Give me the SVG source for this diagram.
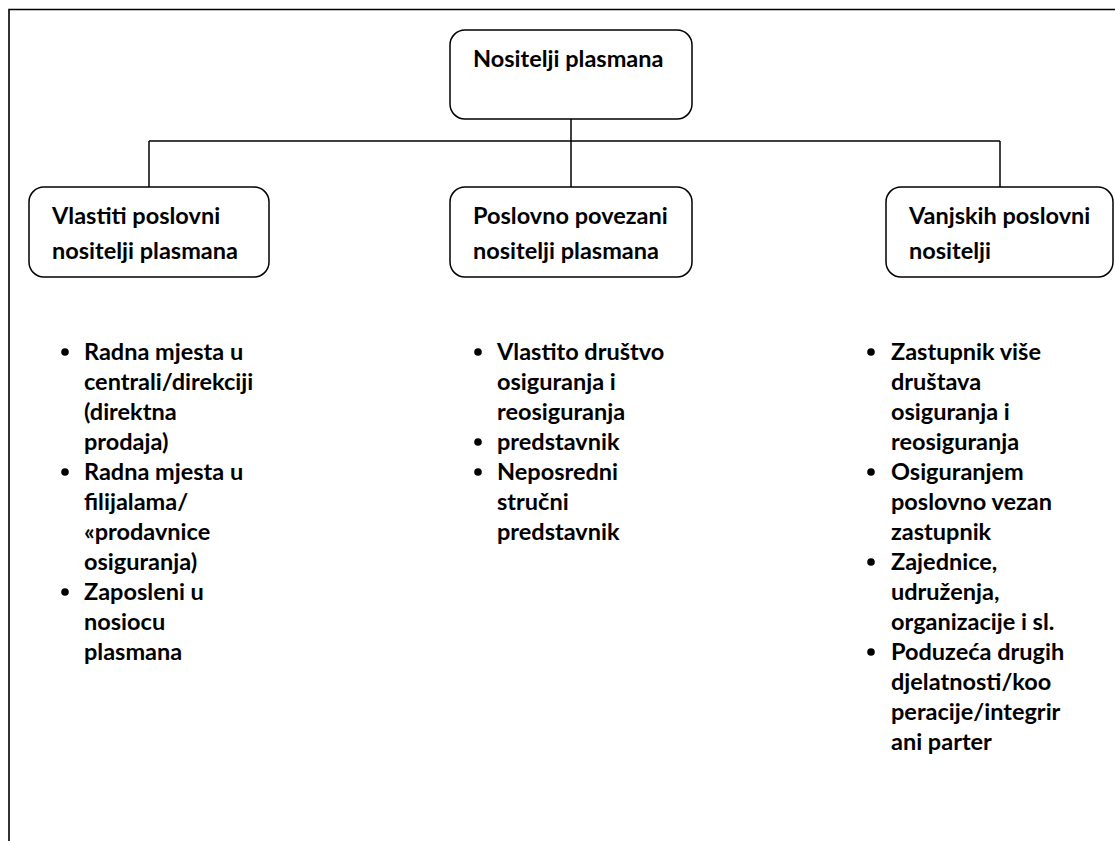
<svg xmlns="http://www.w3.org/2000/svg" width="1115" height="841" viewBox="0 0 1115 841">
<style>
.frame{fill:none;stroke:#000;stroke-width:1.6}
.box{fill:#fff;stroke:#000;stroke-width:1.5}
.conn{fill:none;stroke:#000;stroke-width:1.5}
text{font-family:Lato,"Liberation Sans",sans-serif;font-weight:bold;font-size:23.5px;fill:#000}
.dot{fill:#000}
</style>
<rect width="1115" height="841" fill="#fff"/>
<path class="frame" d="M9,841 V9.5 H1115"/>
<g id="connectors">
<path class="conn" d="M571,119 V187"/>
<path class="conn" d="M149,141 H1000"/>
<path class="conn" d="M149,141 V187"/>
<path class="conn" d="M1000,141 V187"/>
</g>
<g id="root">
<rect class="box" x="450" y="30" width="242" height="89" rx="15"/>
<text x="473" y="67">Nositelji plasmana</text>
</g>
<g id="left">
<rect class="box" x="29" y="187" width="240" height="90" rx="15"/>
<text x="52" y="224">Vlastiti poslovni</text>
<text x="52" y="259">nositelji plasmana</text>
</g>
<g id="middle">
<rect class="box" x="450" y="187" width="242" height="90" rx="15"/>
<text x="473" y="224">Poslovno povezani</text>
<text x="473" y="259">nositelji plasmana</text>
</g>
<g id="right">
<rect class="box" x="886" y="187" width="227" height="90" rx="15"/>
<text x="909" y="224">Vanjskih poslovni</text>
<text x="909" y="259">nositelji</text>
</g>
<g id="list-left">
<circle class="dot" cx="65" cy="352" r="3.8"/>
<circle class="dot" cx="65" cy="472" r="3.8"/>
<circle class="dot" cx="65" cy="592" r="3.8"/>
<text x="84" y="360">Radna mjesta u</text>
<text x="84" y="390">centrali/direkciji</text>
<text x="84" y="420">(direktna</text>
<text x="84" y="450">prodaja)</text>
<text x="84" y="480">Radna mjesta u</text>
<text x="84" y="510">filijalama/</text>
<text x="84" y="540">«prodavnice</text>
<text x="84" y="570">osiguranja)</text>
<text x="84" y="600">Zaposleni u</text>
<text x="84" y="630">nosiocu</text>
<text x="84" y="660">plasmana</text>
</g>
<g id="list-middle">
<circle class="dot" cx="478" cy="352" r="3.8"/>
<circle class="dot" cx="478" cy="442" r="3.8"/>
<circle class="dot" cx="478" cy="472" r="3.8"/>
<text x="497" y="360">Vlastito društvo</text>
<text x="497" y="390">osiguranja i</text>
<text x="497" y="420">reosiguranja</text>
<text x="497" y="450">predstavnik</text>
<text x="497" y="480">Neposredni</text>
<text x="497" y="510">stručni</text>
<text x="497" y="540">predstavnik</text>
</g>
<g id="list-right">
<circle class="dot" cx="871" cy="352" r="3.8"/>
<circle class="dot" cx="871" cy="472" r="3.8"/>
<circle class="dot" cx="871" cy="562" r="3.8"/>
<circle class="dot" cx="871" cy="652" r="3.8"/>
<text x="891" y="360">Zastupnik više</text>
<text x="891" y="390">društava</text>
<text x="891" y="420">osiguranja i</text>
<text x="891" y="450">reosiguranja</text>
<text x="891" y="480">Osiguranjem</text>
<text x="891" y="510">poslovno vezan</text>
<text x="891" y="540">zastupnik</text>
<text x="891" y="570">Zajednice,</text>
<text x="891" y="600">udruženja,</text>
<text x="891" y="630">organizacije i sl.</text>
<text x="891" y="660">Poduzeća drugih</text>
<text x="891" y="690">djelatnosti/koo</text>
<text x="891" y="720">peracije/integrir</text>
<text x="891" y="750">ani parter</text>
</g>
</svg>
